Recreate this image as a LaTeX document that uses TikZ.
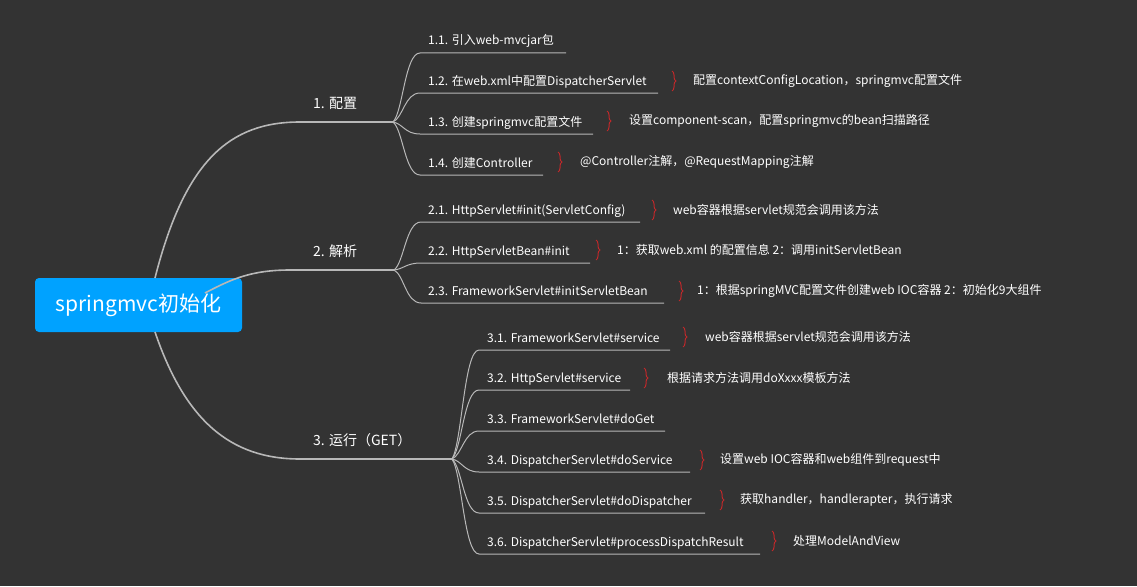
\documentclass[tikz,border=0pt]{standalone}
\usepackage{fontspec}
\setmainfont{Noto Sans CJK SC}
\usetikzlibrary{decorations.pathreplacing}
\definecolor{bg}{HTML}{333333}
\definecolor{rootc}{HTML}{00A2FF}
\definecolor{ln}{HTML}{B8B8B8}
\definecolor{br}{HTML}{C0282A}
\begin{document}
\begin{tikzpicture}[x=1pt,y=-1pt,
  lbl/.style={anchor=base west,inner sep=0pt,text=white,font=\fontsize{12}{13}\selectfont},
  main/.style={anchor=base west,inner sep=0pt,text=white,font=\fontsize{14}{15}\selectfont},
  sumt/.style={anchor=west,inner sep=0pt,text=white,font=\fontsize{12}{13}\selectfont},
  wire/.style={draw=ln,line width=1pt},
  thick wire/.style={draw=ln,line width=1.6pt},
  brc/.style={draw=br,line width=1pt,decorate,decoration={brace,amplitude=4pt,aspect=0.5}}]
\fill[bg] (0,0) rectangle (1137,586);
\node[fill=rootc,rounded corners=4pt,minimum width=207pt,minimum height=54pt,text=white,font=\fontsize{21}{23}\selectfont] (root) at (138.5,305) {springmvc初始化};
\coordinate (r1) at (155,278); \coordinate (r2) at (205,293); \coordinate (r3) at (155,332);
\coordinate (a1) at (300,122); \coordinate (f1) at (393,122);
\coordinate (a2) at (290,270); \coordinate (f2) at (394,270);
\coordinate (a3) at (300,459); \coordinate (f3) at (452,459);
\draw[thick wire] (r1) .. controls (185,160) and (230,122) .. (a1) -- (f1);
\draw[thick wire] (r2) .. controls (230,280) and (250,270) .. (a2) -- (f2);
\draw[thick wire] (r3) .. controls (185,420) and (230,459) .. (a3) -- (f3);
\node[main] (m1) at (313,108) {1. 配置};
\node[main] (m2) at (313,256) {2. 解析};
\node[main] (m3) at (313,445) {3. 运行（GET）};
\foreach \y/\e/\t [count=\i] in {53/566/{1.1. 引入web-mvcjar包},93/658/{1.2. 在web.xml中配置DispatcherServlet},134/593/{1.3. 创建springmvc配置文件},175/543/{1.4. 创建Controller}}{
  \draw[wire] (f1) .. controls (403,{122+0.15*(\y-122)}) and (405,\y) .. (420,\y) -- (\e,\y);
  \node[lbl] (c1\i) at (428,\y-8) {\t};}
\foreach \y/\e/\t [count=\i] in {222/640/{2.1. HttpServlet\#init(ServletConfig)},263/590/{2.2. HttpServletBean\#init},303/664/{2.3. FrameworkServlet\#initServletBean}}{
  \draw[wire] (f2) .. controls (404,{270+0.15*(\y-270)}) and (406,\y) .. (421,\y) -- (\e,\y);
  \node[lbl] (c2\i) at (428,\y-8) {\t};}
\foreach \y/\e/\t [count=\i] in {350/670/{3.1. FrameworkServlet\#service},390/630/{3.2. HttpServlet\#service},431/665/{3.3. FrameworkServlet\#doGet},472/690/{3.4. DispatcherServlet\#doService},513/705/{3.5. DispatcherServlet\#doDispatcher},554/760/{3.6. DispatcherServlet\#processDispatchResult}}{
  \draw[wire] (f3) .. controls (462,{459+0.15*(\y-459)}) and (464,\y) .. (479,\y) -- (\e,\y);
  \node[lbl] (c3\i) at (487,\y-8) {\t};}
\foreach \x/\y/\tx/\t [count=\i] in {
 672/81/693/{配置contextConfigLocation，springmvc配置文件},
 607/121/629/{设置component-scan，配置springmvc的bean扫描路径},
 558/162/580/{@Controller注解，@RequestMapping注解},
 652/210/673/{web容器根据servlet规范会调用该方法},
 596/250/617/{1：获取web.xml 的配置信息 2：调用initServletBean},
 679/291/697/{1：根据springMVC配置文件创建web IOC容器 2：初始化9大组件},
 683/337/705/{web容器根据servlet规范会调用该方法},
 644/378/667/{根据请求方法调用doXxxx模板方法},
 700/460/720/{设置web IOC容器和web组件到request中},
 720/500/740/{获取handler，handlerapter，执行请求},
 772/541/793/{处理ModelAndView}}{
  \coordinate (bt\i) at (\x,\y-10); \coordinate (bb\i) at (\x,\y+10);
  \draw[brc] (bt\i) -- (bb\i);
  \node[sumt] (s\i) at (\tx,\y) {\t};}
\end{tikzpicture}
\end{document}
